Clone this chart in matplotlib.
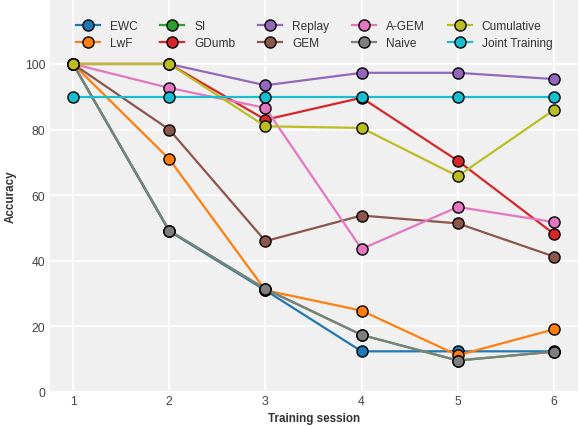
import matplotlib
matplotlib.use("Agg")
import matplotlib.pyplot as plt

sessions = [1, 2, 3, 4, 5, 6]
methods = ["EWC", "LwF", "SI", "GDumb", "Replay", "GEM", "A-GEM", "Naive", "Cumulative", "Joint Training"]
ewc = [100, 49, 31, 12.4, 12.4, 12.4]
lwf = [100, 71, 31, 24.8, 11.2, 19.1]
si = [100, 49.2, 31.4, 17.4, 9.6, 12.3]
gdumb = [100, 100, 83, 89.7, 70.5, 48.2]
replay = [100, 100, 93.5, 97.3, 97.3, 95.4]
gem = [100, 80, 46, 53.8, 51.4, 41.3]
agem = [100, 92.7, 86.6, 43.6, 56.4, 51.8]
naive = [100, 49.2, 31.4, 17.4, 9.6, 12.3]
cumulative = [100, 100, 81, 80.5, 65.8, 86]
joint = [90, 90, 90, 90, 90, 90]
series = [ewc, lwf, si, gdumb, replay, gem, agem, naive, cumulative, joint]
colors = ["#1f77b4", "#ff7f0e", "#2ca02c", "#d62728", "#9467bd", "#8c564b",
          "#e377c2", "#7f7f7f", "#bcbd22", "#17becf"]

plt.rcParams['font.family'] = ['Liberation Sans', 'DejaVu Sans']
fig = plt.figure(figsize=(5.79, 4.27), dpi=100)
ax = fig.add_axes([50/579, 34/427, 528/579, 392/427])
ax.set_facecolor("#f0f0f0")
for s in ax.spines.values():
    s.set_visible(False)
ax.grid(True, color="white", linewidth=1.2)
ax.set_axisbelow(True)

for name, vals, c in zip(methods, series, colors):
    ax.plot(sessions, vals, color=c, linewidth=1.6, marker="o", markersize=8,
            markeredgecolor="black", markeredgewidth=1.0, label=name)

ax.set_xlim(0.76, 6.25)
ax.set_ylim(0, 119.5)
ax.set_xticks(sessions)
ax.set_yticks([0, 20, 40, 60, 80, 100])
ax.tick_params(axis="x", length=0, labelsize=8.8, labelcolor="#444444", pad=2.5)
ax.tick_params(axis="y", length=0, labelsize=8.8, labelcolor="#444444", pad=3.5)
ax.set_xlabel("Training session", fontsize=8.4, fontweight="bold", color="#333333", labelpad=3)
ax.set_ylabel("Accuracy", fontsize=8.4, fontweight="bold", color="#333333", labelpad=6)

leg = ax.legend(ncol=5, loc="upper left", bbox_to_anchor=(26/528, 0.949), frameon=False,
                fontsize=8.6, handlelength=2.0, columnspacing=1.9, labelspacing=0.45,
                handletextpad=0.85, borderaxespad=0.0, borderpad=0.0)
for t in leg.get_texts():
    t.set_color("#333333")

fig.savefig("out.png", dpi=100)
